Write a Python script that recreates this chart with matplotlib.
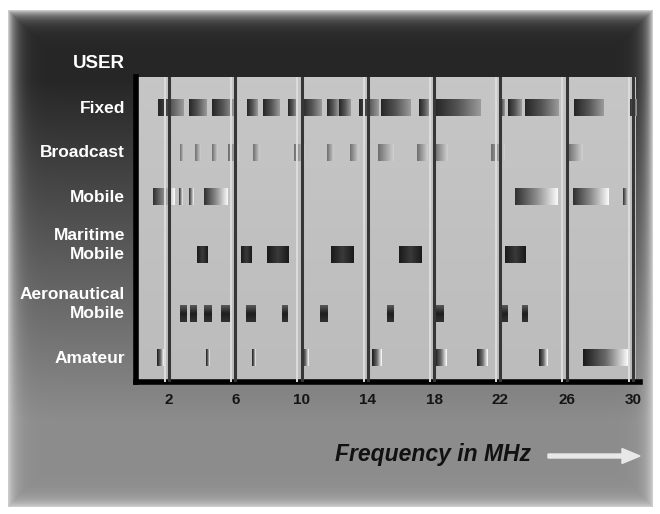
import numpy as np
import matplotlib
matplotlib.use("Agg")
import matplotlib.pyplot as plt
from matplotlib.colors import LinearSegmentedColormap
from matplotlib.patches import FancyArrow

plt.rcParams['font.family'] = ['Liberation Sans', 'DejaVu Sans']

# Dati: bande di frequenza (MHz) per ogni utente
users = ["Fixed", "Broadcast", "Mobile", "Maritime\nMobile", "Aeronautical\nMobile", "Amateur"]
freq_ticks = [2, 6, 10, 14, 18, 22, 26, 30]

fixed = [(1.32, 2.86), (3.17, 4.22), (4.58, 5.88), (6.72, 7.37), (7.67, 8.69), (9.16, 9.70),
         (10.0, 11.17), (11.54, 12.22), (12.28, 12.95), (13.45, 14.62), (14.8, 16.58),
         (17.08, 17.69), (18.06, 20.79), (21.88, 22.23), (22.46, 23.28), (23.45, 25.48),
         (26.42, 28.18), (29.76, 30.24)]
broadcast = [(2.68, 2.92), (3.54, 3.85), (4.58, 4.89), (5.57, 6.18), (7.07, 7.49), (9.52, 10.18),
             (11.54, 11.91), (12.89, 13.38), (14.62, 15.54), (16.95, 17.57), (18.06, 18.79),
             (21.45, 22.29), (26.06, 26.91)]
mobile = [(1.02, 2.31), (2.62, 2.86), (3.17, 3.42), (4.09, 5.51), (22.87, 25.42), (26.36, 28.48),
          (29.39, 29.70)]
maritime = [(3.66, 4.28), (6.36, 7.01), (7.91, 9.22), (11.78, 13.14), (15.85, 17.23), (22.29, 23.51)]
aeronautical = [(2.68, 3.05), (3.23, 3.60), (4.09, 4.52), (5.14, 5.69), (6.66, 7.25), (8.81, 9.16),
                (11.11, 11.54), (15.17, 15.54), (18.06, 18.55), (22.06, 22.46), (23.28, 23.62)]
amateur = [(1.26, 1.63), (4.22, 4.46), (7.01, 7.25), (10.0, 10.37), (14.25, 14.80), (18.06, 18.73),
           (20.61, 21.27), (24.32, 24.84), (26.97, 29.70)]

bands = [fixed, broadcast, mobile, maritime, aeronautical, amateur]

# Layout righe (posizione delle barre e delle etichette)
row_y = [0.0, 0.99, 2.0, 3.30, 4.61, 5.60]
label_y = [0.0, 0.99, 2.0, 3.08, 4.40, 5.62]
bar_h = 0.38
ylim = (6.157, -0.697)
xlim = (0, 30.42)
panel_right = 30.17

# Stili dei gradienti (colori, direzione)
styles = [
    (['#262626', '#555555', '#9a9a9a'], 'h'),
    (['#6e6e6e', '#a0a0a0', '#d0d0d0'], 'h'),
    (['#303030', '#8c8c8c', '#fafafa'], 'h'),
    (['#1a1a1a', '#3a3a3a', '#1a1a1a'], 'h'),
    (['#5a5a5a', '#1e1e1e', '#323232'], 'v'),
    (['#1a1a1a', '#6a6a6a', '#ffffff'], 'h'),
]


def grad_bar(ax, x0, x1, y, h, colors, direction):
    t = np.linspace(0, 1, 64)
    arr = t[None, :] if direction == 'h' else t[:, None]
    cmap = LinearSegmentedColormap.from_list('g', colors)
    ax.imshow(arr, cmap=cmap, vmin=0, vmax=1, extent=(x0, x1, y + h / 2, y - h / 2),
              aspect='auto', interpolation='bilinear', zorder=2)


W, H = 660, 514
fig = plt.figure(figsize=(W / 100, H / 100), dpi=100)

# Sfondo: cornice con gradiente scuro -> grigio
yy, xx = np.mgrid[0:H, 0:W].astype(float)
fx0, fx1, fy0, fy1 = 8, 652, 10, 506
base = 0.15 + 0.40 * np.clip((yy - 80) / 340, 0, 1)
d = np.minimum.reduce([xx - fx0, fx1 - xx, yy - fy0, fy1 - yy])
glow = np.exp(-np.clip(d, 0, None) / 7)
val = base * (1 - glow) + 0.80 * glow
val[d < 0] = 1.0
bg = fig.add_axes([0, 0, 1, 1], zorder=-1)
bg.imshow(np.dstack([val] * 3), extent=(0, W, H, 0), aspect='auto', interpolation='bilinear')
bg.axis('off')

ax = fig.add_axes([136 / W, (H - 382) / H, 504 / W, 305 / H])
ax.set_facecolor('none')

# Pannello grigio chiaro
panel = np.linspace(0, 1, 64)[:, None]
ax.imshow(panel, cmap=LinearSegmentedColormap.from_list('p', ['#c6c6c6', '#bcbcbc']),
          extent=(0, panel_right, ylim[0], ylim[1]), aspect='auto', zorder=0)

# Barre
for rows, y, (colors, direction) in zip(bands, row_y, styles):
    for x0, x1 in rows:
        grad_bar(ax, x0, x1, y, bar_h, colors, direction)

# Linee verticali in rilievo
for t in freq_ticks:
    ax.axvline(t - 0.26, color='#dcdcdc', lw=1.4, zorder=3)
    ax.axvline(t, color='#363636', lw=2.2, zorder=3)

ax.set_xlim(*xlim)
ax.set_ylim(*ylim)
ax.set_xticks(freq_ticks)
ax.set_xticklabels([str(t) for t in freq_ticks], fontsize=11, fontweight='bold', color='#151515')
ax.tick_params(axis='x', length=0, pad=8)
ax.set_yticks([])
for s in ['top', 'right']:
    ax.spines[s].set_visible(False)
for s in ['left', 'bottom']:
    ax.spines[s].set_color('black')
    ax.spines[s].set_linewidth(4)

# Etichette utenti
for lab, y in zip(users, label_y):
    ax.annotate(lab, xy=(0, y), xycoords=ax.get_yaxis_transform(), xytext=(-8, 0),
                textcoords='offset points', ha='right', va='center', color='white',
                fontsize=12.5, fontweight='bold', linespacing=1.3, annotation_clip=False)

fig.text(125 / W, 1 - 64 / H, "USER", ha='right', va='center', color='white',
         fontsize=13.5, fontweight='bold')
fig.text(335 / W, 1 - 454 / H, "Frequency in MHz", ha='left', va='center', color='#111111',
         fontsize=16.5, fontweight='bold', style='italic')

arrow = FancyArrow(5.48, (H - 456) / 100, 0.92, 0, width=0.04, head_width=0.15, head_length=0.18,
                   length_includes_head=True, color='#e8e8e8', transform=fig.dpi_scale_trans)
fig.add_artist(arrow)

plt.savefig("out.png", dpi=100)
plt.close()
